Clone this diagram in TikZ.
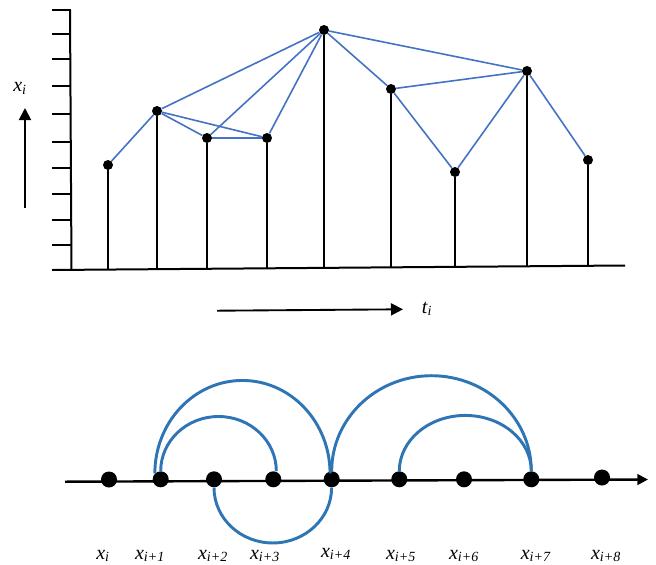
\documentclass[tikz,border=0pt]{standalone}
\usepackage{fontspec}
\setmainfont{Liberation Serif}
\usepackage{xcolor}
\usetikzlibrary{arrows.meta}
\definecolor{lineblue}{RGB}{68,114,196}
\definecolor{arcblue}{RGB}{46,117,182}
\newcommand{\xsub}[2]{\textit{#1}\textsubscript{\textit{#2}}}

\begin{document}
\begin{tikzpicture}[x=0.75pt, y=-0.75pt,
  axis/.style={line width=1.5pt},
  stem/.style={line width=1.5pt},
  link/.style={draw=lineblue, line width=1.2pt},
  arc/.style={draw=arcblue, line width=2.2pt},
  pt/.style={circle, fill=black, inner sep=0pt, minimum size=7.5pt},
  bigpt/.style={circle, fill=black, inner sep=0pt, minimum size=12pt},
  lab/.style={font=\fontsize{15}{18}\selectfont, inner sep=0pt, anchor=base},
  arr/.style={-{Triangle[length=9pt, width=9pt]}, line width=1.4pt}
]
\useasboundingbox (0,0) rectangle (656,564);

% upper panel: axes and ticks
\coordinate (ytop) at (70,10);
\coordinate (orig) at (71.5,270);
\coordinate (xl) at (52,270);
\coordinate (xr) at (625,265.5);
\draw[axis] (ytop) -- (orig);
\draw[axis] (xl) -- (xr);
\foreach \y in {10,34,59,86,114,142,168,194,220,245}
  \draw[axis] (52,\y) -- (70.5,\y);

% samples and their stems
\foreach \n/\x/\y/\b in {1/108/165/269.6, 2/157/111/269.2, 3/207/138/268.8,
    4/267/138/268.3, 5/324/30/267.9, 6/391/89/267.3, 7/455/172/266.8,
    8/527/71/266.3, 9/588/160/265.8}{
  \node[pt] (p\n) at (\x,\y) {};
  \coordinate (b\n) at (\x,\b);
}
\foreach \n in {1,...,9}
  \draw[stem] (p\n) -- (b\n);

% visibility links
\foreach \u/\v in {1/2, 2/5, 2/3, 2/4, 3/4, 3/5, 4/5, 5/6, 5/8, 6/8, 6/7, 7/8, 8/9}
  \draw[link] (p\u) -- (p\v);

\node[lab] (xlab) at (20,91.5) {\xsub{x}{i}};
\coordinate (up0) at (25,208);
\coordinate (up1) at (25,108);
\draw[arr] (up0) -- (up1);
\coordinate (ti0) at (217,310.7);
\coordinate (ti1) at (403,309.3);
\draw[arr] (ti0) -- (ti1);
\node[lab] (tlab) at (427,313) {\xsub{t}{i}};

% lower panel
\coordinate (al) at (65,481.7);
\coordinate (ar) at (648,479.5);
\draw[axis, line width=1.8pt, -{Triangle[length=8pt, width=8pt]}] (al) -- (ar);
\foreach \n/\x/\y in {0/109/479.5, 1/160.7/479.3, 2/214/479.3, 3/273.3/479.3,
    4/331.7/479.3, 5/399.3/479.3, 6/464/479.3, 7/531.3/479.3, 8/602/477.5}
  \node[bigpt] (n\n) at (\x,\y) {};

\draw[arc] (n1.135) arc[start angle=180, end angle=0, x radius=65.7pt, y radius=69.75pt];
\draw[arc] (n1.north) arc[start angle=180, end angle=0, x radius=43.35pt, y radius=40.9pt];
\draw[arc] (n2.south) arc[start angle=180, end angle=360, x radius=44.1pt, y radius=41.55pt];
\draw[arc] (n4.north) arc[start angle=180, end angle=0, x radius=74.85pt, y radius=71.5pt];
\draw[arc] (n5.north) arc[start angle=180, end angle=0, x radius=49.5pt, y radius=41.7pt];

\foreach \n/\x/\y/\s in {0/103/559/i, 1/150/559/i+1, 2/213/559/i+2, 3/265/559/i+3,
    4/336/557/i+4, 5/401/559/i+5, 6/464/559/i+6, 7/536/559/i+7, 8/606/559/i+8}
  \node[lab] (l\n) at (\x,\y) {\xsub{x}{\s}};
\end{tikzpicture}
\end{document}
